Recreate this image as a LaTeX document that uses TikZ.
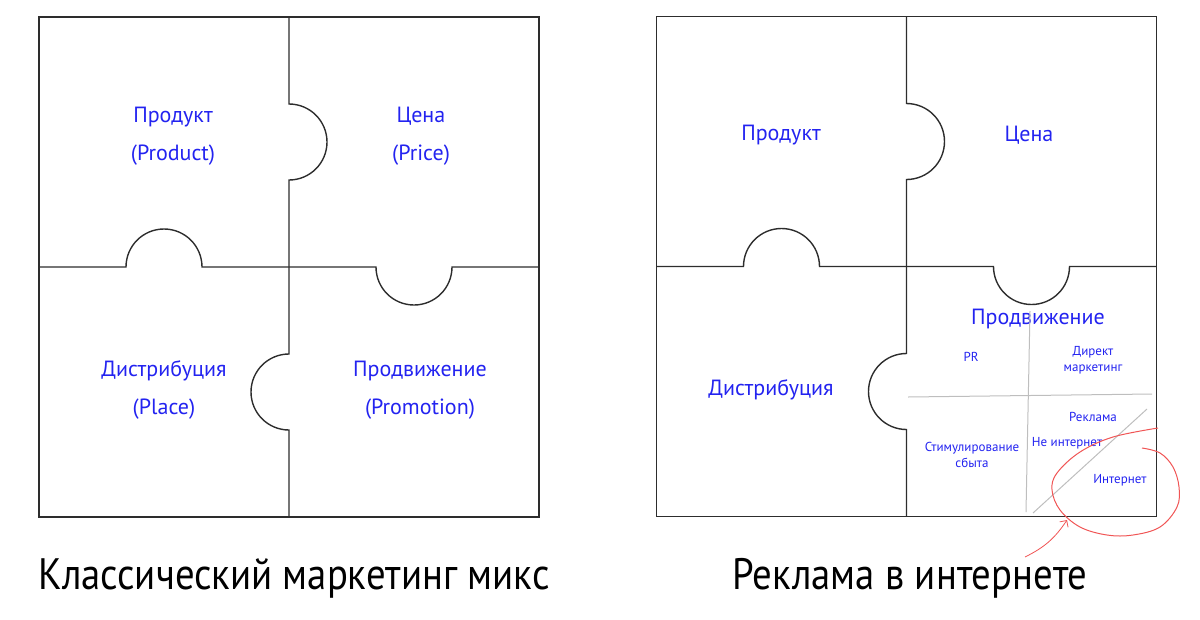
\documentclass[tikz,border=0pt]{standalone}
\usepackage{fontspec}
\setmainfont{PT Sans}
\usetikzlibrary{arrows.meta}
\definecolor{inkblue}{RGB}{35,35,240}
\definecolor{pen}{RGB}{240,85,85}
\definecolor{outline}{RGB}{45,45,45}
\definecolor{guide}{RGB}{190,190,190}

\begin{document}
\begin{tikzpicture}[x=1pt, y=-1pt]
\useasboundingbox (0,0) rectangle (1200,619);
\tikzstyle{piece} = [draw=outline, line width=1.4pt];
\tikzstyle{big} = [text=inkblue, font=\fontsize{22}{38}\selectfont, align=center];
\tikzstyle{small} = [text=inkblue, font=\fontsize{13}{16}\selectfont, align=center];
\tikzstyle{title} = [font=\fontsize{44}{44}\selectfont, anchor=base];
\tikzset{puzzle/.pic={
  \draw[piece] (-250,-250) rectangle (250,250);
  \draw[piece] (0,-250) -- (0,-163) arc[start angle=-90, end angle=90, radius=38]
    -- (0,87) arc[start angle=-90, end angle=-270, radius=38] -- (0,250);
  \draw[piece] (-250,0) -- (-163,0) arc[start angle=180, end angle=360, radius=38]
    -- (87,0) arc[start angle=180, end angle=0, radius=38] -- (250,0);
}}
\pic at (289,267) {puzzle};
\pic at (906.5,266.5) {puzzle};

% classic mix
\node[big] (product) at (173,136) {Продукт\\(Product)};
\node[big] (price) at (421,136) {Цена\\(Price)};
\node[big] (place) at (164,390) {Дистрибуция\\(Place)};
\node[big] (promotion) at (420,390) {Продвижение\\(Promotion)};

% online ads
\node[big] (product2) at (781,135) {Продукт};
\node[big] (price2) at (1029,135) {Цена};
\node[big] (place2) at (771,390) {Дистрибуция};
\node[big] (promotion2) at (1038,319) {Продвижение};

\draw[guide, line width=1pt] (1030,311) -- (1026,512);
\draw[guide, line width=1pt] (908,397) -- (1152,394);
\draw[guide, line width=1pt] (1033,513) -- (1147,409);

\node[small] (pr) at (971,357) {PR};
\node[small] (direct) at (1093,360) {Директ\\маркетинг};
\node[small] (ads) at (1093,417) {Реклама};
\node[small] (offline) at (1067,443) {Не интернет};
\node[small] (sales) at (972,455) {Стимулирование\\сбыта};
\node[small] (online) at (1120,480) {Интернет};

\draw[pen, line width=1pt] plot[smooth, tension=0.6] coordinates {(1158,428) (1113,437) (1080,452) (1057,473) (1052,490) (1060,510) (1080,527) (1107,535) (1133,535) (1160,527) (1177,507) (1179,487) (1173,467) (1160,453) (1142,448)};
\coordinate (tail) at (1025,557);
\coordinate (tip) at (1067,520);
\draw[pen, line width=0.8pt, -{Straight Barb[length=5pt]}] (tail) to[bend right=15] (tip);

\node[title] (classic) at (294,589) {\scalebox{0.88}[1]{Классический маркетинг микс}};
\node[title] (webtitle) at (910,589) {\scalebox{0.88}[1]{Реклама в интернете}};
\end{tikzpicture}
\end{document}
